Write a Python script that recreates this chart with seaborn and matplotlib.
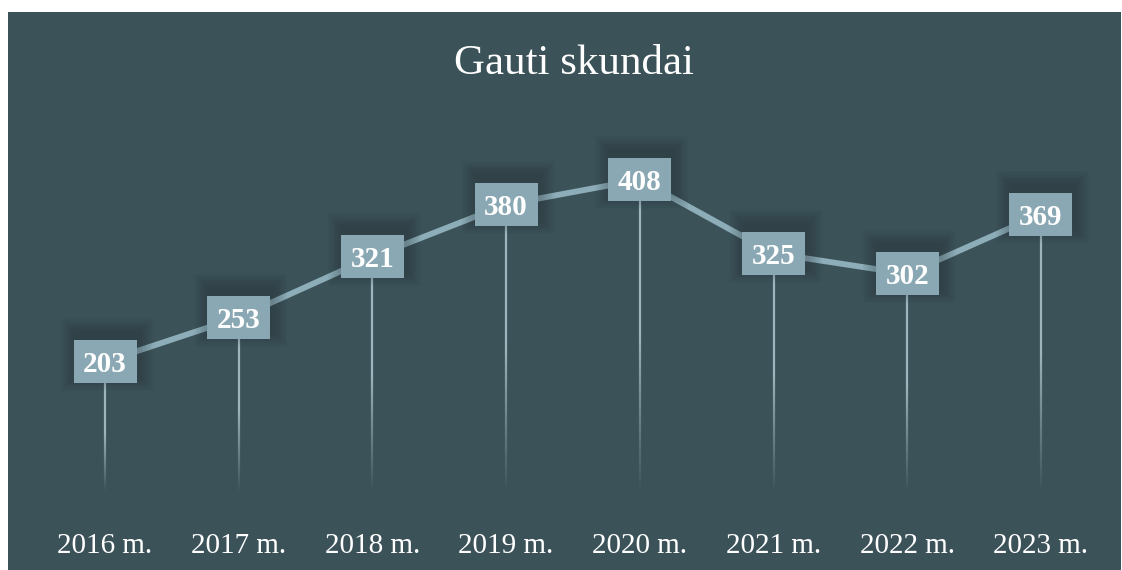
import numpy as np
import matplotlib
matplotlib.use('Agg')
import matplotlib.pyplot as plt
import seaborn as sns
from matplotlib.patches import Rectangle
from matplotlib.collections import LineCollection

years = ['2016 m.', '2017 m.', '2018 m.', '2019 m.', '2020 m.', '2021 m.', '2022 m.', '2023 m.']
complaints = [203, 253, 321, 380, 408, 325, 302, 369]
title = 'Gauti skundai'

bg = '#3b5259'
box_col = '#8aa8b3'
line_col = '#8dadb8'
drop_col = '#a9c2ca'

sns.set_theme(style='white')
plt.rcParams['font.family'] = ['Liberation Serif', 'DejaVu Serif']

fig = plt.figure(figsize=(11.22, 5.70), dpi=100)
fig.patch.set_facecolor('white')
ax = fig.add_axes([8 / 1122, 0, 1113 / 1122, 558 / 570])
ax.set_facecolor(bg)
ax.set_xlim(-0.7255, 7.599)
ax.set_ylim(-31.5, 596.8)
ax.axis('off')
ax.add_patch(Rectangle((0, 0), 1, 1, transform=ax.transAxes, color=bg, zorder=0))

# pixel -> data unit helpers
px_x = 1 / 133.7
px_y = 1 / 0.888

x = np.arange(len(years))
bw, bh = 63 * px_x, 43 * px_y
drop_end = 58

# fading drop lines
for xi, v in zip(x, complaints):
   top = v - bh / 2
   ys = np.linspace(top, drop_end, 80)
   segs = [[(xi, ys[k]), (xi, ys[k + 1])] for k in range(len(ys) - 1)]
   fade_start = drop_end + (top - drop_end) * 0.55
   alphas = [min(1.0, max(0.0, (ys[k] - drop_end) / (fade_start - drop_end))) for k in range(len(ys) - 1)]
   cols = [matplotlib.colors.to_rgba(drop_col, a * 0.9) for a in alphas]
   ax.add_collection(LineCollection(segs, colors=cols, linewidths=1.6, zorder=2))

sns.lineplot(x=x, y=complaints, ax=ax, color=line_col, linewidth=4.2, zorder=3)

for xi, v in zip(x, complaints):
   # soft shadow, shifted up a little
   for k in range(10):
      g = 1.5 * (k + 1)
      ax.add_patch(Rectangle((xi - bw / 2 - g * px_x + 2 * px_x, v - bh / 2 - g * px_y + 7 * px_y),
                             bw + 2 * g * px_x, bh + 2 * g * px_y,
                             color='#1a272b', alpha=0.03, lw=0, zorder=3.5))
   ax.add_patch(Rectangle((xi - bw / 2, v - bh / 2), bw, bh, color=box_col, lw=0, zorder=4))
   ax.text(xi, v, str(v), ha='center', va='center_baseline', color='white',
           fontsize=21, fontweight='bold', zorder=5)

for xi, lab in zip(x, years):
   ax.text(xi, 17 / 558, lab, transform=ax.get_xaxis_transform(), ha='center', va='baseline',
           color='white', fontsize=21)

ax.text(0.5 + 10 / 1113, 1 - 62 / 558, title, transform=ax.transAxes, ha='center', va='baseline',
        color='white', fontsize=31)

fig.savefig('out.png', dpi=100, facecolor='white')
